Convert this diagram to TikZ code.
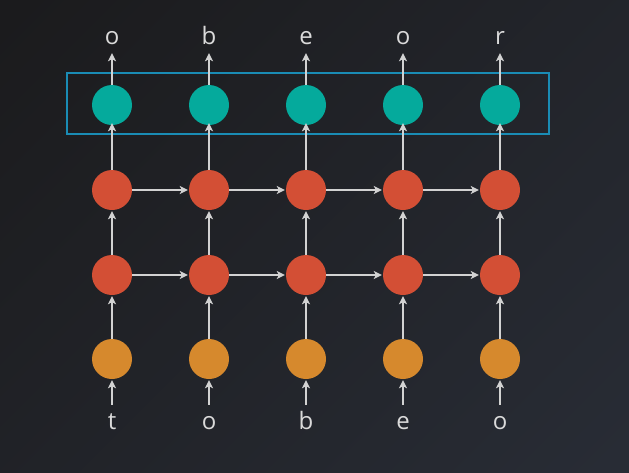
\documentclass[tikz,border=0pt]{standalone}
\usepackage{fontspec}
\setmainfont{Open Sans}
\usetikzlibrary{arrows.meta}
\definecolor{bgA}{HTML}{1B1B1D}
\definecolor{bgB}{HTML}{282C35}
\definecolor{tealc}{HTML}{05AA9C}
\definecolor{redc}{HTML}{D34F35}
\definecolor{orangec}{HTML}{D6892D}
\definecolor{boxc}{HTML}{1A8CB5}
\definecolor{linec}{HTML}{D2D2D2}
\definecolor{textc}{HTML}{DADADA}
\tikzset{
  cell/.style={circle, minimum size=40pt, inner sep=0pt, draw=none},
  outcell/.style={cell, fill=tealc},
  hidcell/.style={cell, fill=redc},
  incell/.style={cell, fill=orangec},
  lbl/.style={anchor=base, inner sep=0pt, text height=18pt, text depth=0pt, text=textc,
    font=\fontsize{24}{28}\selectfont},
  arr/.style={draw=linec, line width=1.5pt, -{Stealth[length=8pt,width=8pt,inset=2pt]}},
  selbox/.style={draw=boxc, line width=2.2pt, minimum width=482pt, minimum height=61pt, inner sep=0pt}
}
\begin{document}
\begin{tikzpicture}[x=1pt,y=-1pt]
\useasboundingbox (0,0) rectangle (629,472);
\shade[top color=bgA, bottom color=bgB, shading angle=45] (-100,-100) rectangle (729,572);
\foreach \i/\x/\o/\n in {1/112/o/t, 2/209/b/o, 3/306/e/b, 4/403/o/e, 5/500/r/o} {
  \node[outcell] (t\i) at (\x,105) {};
  \node[hidcell] (a\i) at (\x,190) {};
  \node[hidcell] (b\i) at (\x,275) {};
  \node[incell]  (x\i) at (\x,359) {};
  \node[lbl] (o\i) at (\x,44) {\o};
  \node[lbl] (n\i) at (\x,429) {\n};
}
\node[selbox] (box) at (308,103.5) {};
\foreach \i in {1,...,5} {
  \draw[arr, shorten >=9pt] (t\i) -- (o\i);
  \draw[arr, shorten <=6pt, shorten >=1pt] (n\i) -- (x\i);
  \draw[arr, shorten >=1pt] (x\i) -- (b\i);
  \draw[arr, shorten >=1pt] (b\i) -- (a\i);
  \draw[arr, shorten >=-2pt] (a\i) -- (t\i);
}
\foreach \i/\j in {1/2,2/3,3/4,4/5} {
  \draw[arr, shorten >=1pt] (a\i) -- (a\j);
  \draw[arr, shorten >=1pt] (b\i) -- (b\j);
}
\end{tikzpicture}
\end{document}
